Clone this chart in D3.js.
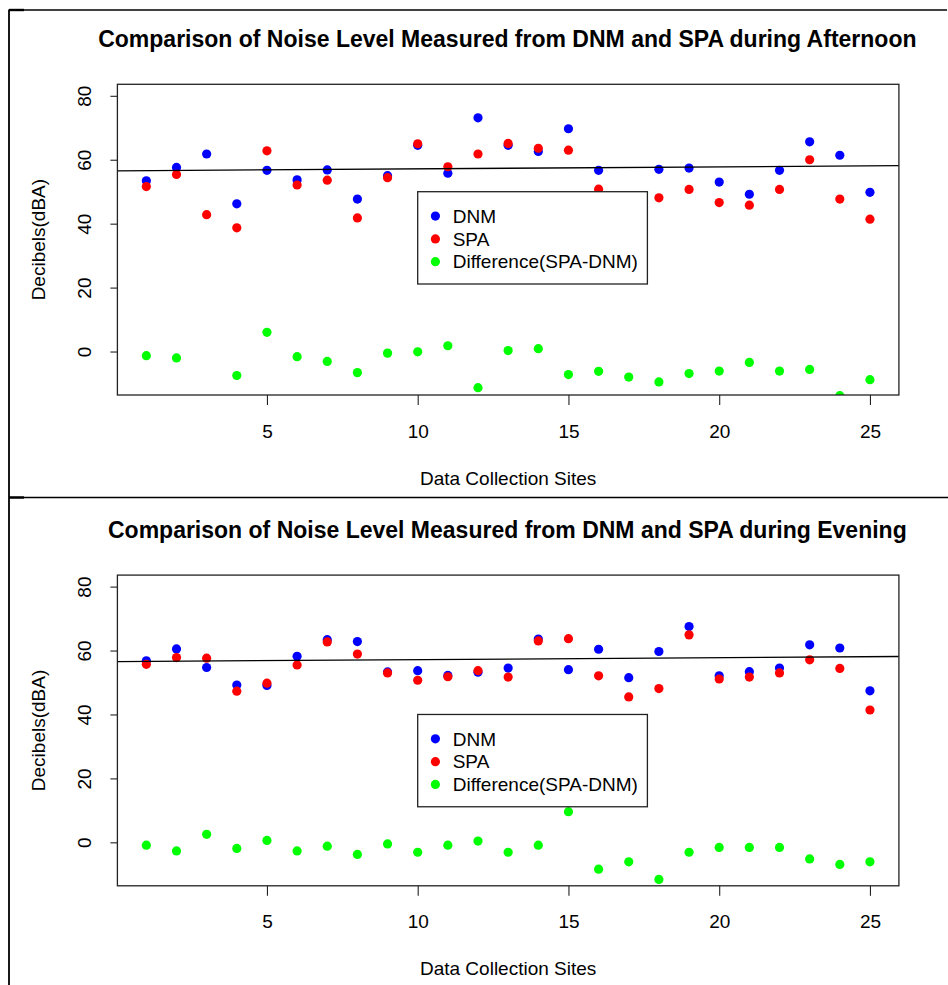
<!DOCTYPE html>
<html>
<head>
<meta charset="utf-8">
<script src="https://cdn.jsdelivr.net/npm/d3@7/dist/d3.min.js"></script>
<style>
  html, body { margin: 0; padding: 0; background: #fff; }
  svg { display: block; font-family: "Liberation Sans", Arial, Helvetica, sans-serif; }
</style>
</head>
<body>
<svg id="chart" width="948" height="985"></svg>
<script>
// ---------------- data ----------------
const sites = [1,2,3,4,5,6,7,8,9,10,11,12,13,14,15,16,17,18,19,20,21,22,23,24,25];
const xTicks = [5,10,15,20,25];
const yTicks = [0,20,40,60,80];

const afternoonDNM  = [53.4,57.6,61.8,46.2,56.7,53.7,56.8,47.7,55.0,64.5,55.8,73.1,64.5,62.6,69.7,56.7,47.5,57.0,57.4,53.0,49.2,56.7,65.6,61.4,49.8];
const afternoonSPA  = [51.6,55.4,42.8,38.7,62.8,52.1,53.6,41.8,54.4,65.0,57.8,61.8,65.1,63.6,63.0,50.8,39.5,48.1,50.7,46.6,45.8,50.7,60.0,47.7,41.4];
const afternoonDiff = [-1.3,-2.0,-19.0,-7.5,6.0,-1.6,-3.1,-6.6,-0.5,-0.1,1.8,-11.3,0.3,0.9,-7.2,-6.2,-8.0,-9.5,-6.9,-6.1,-3.4,-6.1,-5.6,-13.8,-8.8];

const eveningDNM  = [56.8,60.5,54.7,49.2,49.1,58.2,63.4,62.8,53.3,53.7,52.2,53.2,54.5,63.6,54.0,60.4,51.5,59.7,67.5,52.1,53.4,54.5,61.8,60.8,47.4];
const eveningSPA  = [55.7,57.8,57.6,47.3,49.8,55.5,62.7,58.9,53.0,50.7,51.8,53.7,51.7,63.0,63.7,52.1,45.5,48.1,64.9,51.1,51.7,53.0,57.1,54.4,41.4];
const eveningDiff = [-0.9,-2.7,2.5,-1.9,0.6,-2.7,-1.2,-3.8,-0.5,-3.1,-0.9,0.4,-3.1,-0.9,9.6,-8.4,-6.1,-11.6,-3.1,-1.6,-1.6,-1.6,-5.2,-6.9,-6.1];

const seriesNames = ["DNM", "SPA", "Difference(SPA-DNM)"];
const seriesColors = ["#0000FF", "#FF0000", "#00FF00"];
const titles = [
  "Comparison of Noise Level Measured from DNM and SPA during Afternoon",
  "Comparison of Noise Level Measured from DNM and SPA during Evening"
];
const xLabel = "Data Collection Sites";
const yLabel = "Decibels(dBA)";
const legendAnchorY = [50, 40];   // legend top-left in data units (x = 10)

// ---------------- regression line (lm of afternoon DNM on site) ----------------
const mx = d3.mean(sites), my = d3.mean(afternoonDNM);
const slope = d3.sum(sites, (s, i) => (s - mx) * (afternoonDNM[i] - my)) / d3.sum(sites, s => (s - mx) ** 2);
const intercept = my - slope * mx;

// ---------------- layout ----------------
const svg = d3.select("#chart");
const plotL = 117.4, plotR = 898.9;
const panelTop = [84.3, 575.1], panelH = 310.7;
const FS = 19;

// outer frame
const frame = svg.append("g").attr("stroke", "#000").attr("fill", "none");
frame.append("line").attr("x1", 9).attr("x2", 9).attr("y1", 9.5).attr("y2", 985).attr("stroke-width", 1.8);
frame.append("line").attr("x1", 9).attr("x2", 947).attr("y1", 10).attr("y2", 10).attr("stroke-width", 1.3);
frame.append("line").attr("x1", 9).attr("x2", 948).attr("y1", 497.5).attr("y2", 497.5).attr("stroke-width", 1.3);
frame.append("line").attr("x1", 9).attr("x2", 24).attr("y1", 10).attr("y2", 10).attr("stroke-width", 2.4);
frame.append("line").attr("x1", 9).attr("x2", 24).attr("y1", 497.5).attr("y2", 497.5).attr("stroke-width", 2.4);

const panels = [
  { dnm: afternoonDNM, spa: afternoonSPA, diff: afternoonDiff },
  { dnm: eveningDNM,  spa: eveningSPA,  diff: eveningDiff }
];

panels.forEach((p, k) => {
  const top = panelTop[k], bottom = top + panelH;
  const x = d3.scaleLinear().domain([0.04, 25.96]).range([plotL, plotR]);
  const y = d3.scaleLinear().domain([-13.6, 83.6]).range([bottom, top]);
  const g = svg.append("g");

  const clipId = "clip" + k;
  svg.append("clipPath").attr("id", clipId).append("rect")
    .attr("x", plotL).attr("y", top).attr("width", plotR - plotL).attr("height", panelH);

  // title
  g.append("text")
    .attr("x", (plotL + plotR) / 2 - 0.8).attr("y", top - 37)
    .attr("text-anchor", "middle").attr("font-weight", "bold").attr("font-size", 23)
    .attr("fill", "#000").text(titles[k]);

  // points
  const pts = g.append("g").attr("clip-path", `url(#${clipId})`);
  [p.dnm, p.spa, p.diff].forEach((vals, si) => {
    pts.append("g").selectAll("circle").data(sites).join("circle")
      .attr("cx", (s) => x(s))
      .attr("cy", (s, i) => y(vals[i]))
      .attr("r", 4.6)
      .attr("fill", seriesColors[si]);
  });

  // regression line
  pts.append("line")
    .attr("x1", x(0.04)).attr("y1", y(intercept + slope * 0.04))
    .attr("x2", x(25.96)).attr("y2", y(intercept + slope * 25.96))
    .attr("stroke", "#000").attr("stroke-width", 1.3);

  // box
  g.append("rect").attr("x", plotL).attr("y", top).attr("width", plotR - plotL).attr("height", panelH)
    .attr("fill", "none").attr("stroke", "#222").attr("stroke-width", 1.3);

  // x axis
  const xa = g.append("g").attr("transform", `translate(0,${bottom})`)
    .call(d3.axisBottom(x).tickValues(xTicks).tickSize(10).tickSizeOuter(0).tickPadding(0).tickFormat(d3.format("d")));
  xa.select(".domain").remove();
  xa.selectAll("line").attr("stroke", "#222").attr("stroke-width", 1.1);
  xa.selectAll("text").attr("font-size", FS).attr("font-family", null).attr("fill", "#000")
    .attr("dy", null).attr("y", 42.5);

  // y axis
  const ya = g.append("g").attr("transform", `translate(${plotL},0)`)
    .call(d3.axisLeft(y).tickValues(yTicks).tickSize(7).tickSizeOuter(0).tickFormat(d3.format("d")));
  ya.select(".domain").remove();
  ya.selectAll("line").attr("stroke", "#222").attr("stroke-width", 1.1);
  ya.selectAll("text").attr("font-size", FS).attr("font-family", null).attr("fill", "#000")
    .attr("dy", null).attr("x", null).attr("text-anchor", "middle")
    .attr("transform", "translate(-26.9,0) rotate(-90)");

  // axis titles
  g.append("text").attr("x", (plotL + plotR) / 2).attr("y", bottom + 89.5)
    .attr("text-anchor", "middle").attr("font-size", FS).attr("fill", "#000").text(xLabel);
  g.append("text").attr("transform", `translate(44.5,${(top + bottom) / 2}) rotate(-90)`)
    .attr("text-anchor", "middle").attr("font-size", FS).attr("fill", "#000").text(yLabel);

  // legend
  const lx = x(10), ly = y(legendAnchorY[k]);
  const lg = g.append("g").attr("transform", `translate(${lx},${ly})`);
  lg.append("rect").attr("width", 229.7).attr("height", 92.3)
    .attr("fill", "#fff").attr("stroke", "#222").attr("stroke-width", 1.3);
  seriesNames.forEach((name, i) => {
    const cy = 24.4 + i * 22.8;
    lg.append("circle").attr("cx", 17.7).attr("cy", cy).attr("r", 4.6).attr("fill", seriesColors[i]);
    lg.append("text").attr("x", 35).attr("y", cy + 6.8).attr("font-size", FS).attr("fill", "#000").text(name);
  });
});
</script>
</body>
</html>
